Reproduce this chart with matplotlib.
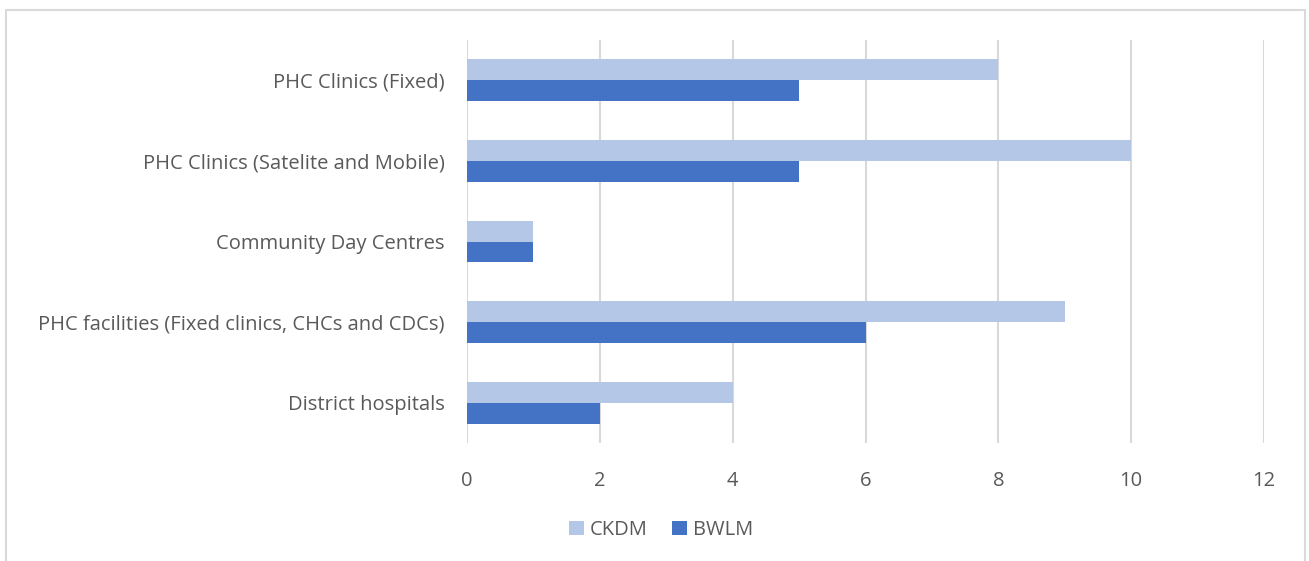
import matplotlib
matplotlib.use("Agg")
import matplotlib.pyplot as plt
from matplotlib.patches import Rectangle
import numpy as np

categories = ["PHC Clinics (Fixed)", "PHC Clinics (Satelite and Mobile)", "Community Day Centres",
              "PHC facilities (Fixed clinics, CHCs and CDCs)", "District hospitals"]
ckdm = [8, 10, 1, 9, 4]
bwlm = [5, 5, 1, 6, 2]
series_names = ["CKDM", "BWLM"]
xticks = [0, 2, 4, 6, 8, 10, 12]

plt.rcParams['font.family'] = ['Open Sans', 'DejaVu Sans']
W, H = 1309, 561
fig = plt.figure(figsize=(W/100, H/100), dpi=100)
ax = fig.add_axes([467/W, 1-443/H, (1264-467)/W, (443-40)/H])

y = np.arange(len(categories))
h = 0.26
ax.barh(y - h/2, ckdm, height=h, color="#b4c7e7", label=series_names[0], zorder=3)
ax.barh(y + h/2, bwlm, height=h, color="#4472c4", label=series_names[1], zorder=3)

ax.set_ylim(len(categories) - 0.5, -0.5)
ax.set_xlim(0, 12)
ax.set_xticks(xticks)
ax.set_yticks(y)
ax.set_yticklabels(categories)
ax.xaxis.grid(True, color="#d9d9d9", linewidth=1.5, zorder=0)
for s in ax.spines.values():
    s.set_visible(False)
ax.tick_params(axis='both', length=0, labelsize=14.5, labelcolor="#595959")
ax.tick_params(axis='x', pad=20)
ax.tick_params(axis='y', pad=16)

fig.legend(loc='center', bbox_to_anchor=(661/W, 1-530/H), ncol=2, frameon=False,
           fontsize=14.5, labelcolor="#595959", handlelength=0.75, handleheight=0.75,
           columnspacing=1.2, handletextpad=0.3)

fig.patches.append(Rectangle((6/W, -0.05), (1305-6)/W, 1.05 - 10/H, transform=fig.transFigure,
                             fill=False, edgecolor="#d9d9d9", linewidth=1.5))
fig.savefig("out.png", dpi=100)
